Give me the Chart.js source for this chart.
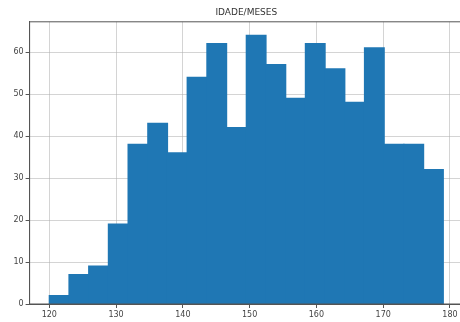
<!DOCTYPE html>
<html>
<head>
<meta charset="utf-8">
<script src="https://cdn.jsdelivr.net/npm/chart.js@4/dist/chart.umd.min.js"></script>
<style>
  html, body { margin: 0; padding: 0; background: #fff; overflow: hidden; }
  #wrap { width: 470px; height: 322px; }
</style>
</head>
<body>
<div id="wrap"><canvas id="histChart" width="470" height="322"></canvas></div>
<script>
// histograma da idade em meses (20 classes)
const titulo = 'IDADE/MESES';
const binStart = 120;
const binEnd = 179;
const counts = [2, 7, 9, 19, 38, 43, 36, 54, 62, 42, 64, 57, 49, 62, 56, 48, 61, 38, 38, 32];
const xTicks = [120, 130, 140, 150, 160, 170, 180];
const yTicks = [0, 10, 20, 30, 40, 50, 60];

const binWidth = (binEnd - binStart) / counts.length;
const points = counts.map((c, i) => ({ x: binStart + binWidth * (i + 0.5), y: c }));

// margens de 5% como no matplotlib
const xPad = (binEnd - binStart) * 0.05;
const yMax = Math.max(...counts) * 1.05;

const gridColor = 'rgba(176,176,176,0.55)';
const tickFont = { family: 'DejaVu Sans', size: 8 };

// moldura do eixo (spines)
const frame = {
    id: 'frame',
    afterDraw(chart) {
        const { ctx, chartArea: a } = chart;
        ctx.save();
        ctx.strokeStyle = '#555';
        ctx.lineWidth = 1;
        ctx.strokeRect(a.left, a.top, a.right - a.left, a.bottom - a.top);
        ctx.restore();
    }
};

const ctx = document.getElementById('histChart').getContext('2d');
const histChart = new Chart(ctx, {
    type: 'bar',
    data: {
        datasets: [{
            data: points,
            backgroundColor: '#1f77b4',
            borderWidth: 0,
            inflateAmount: 0.6,
            barPercentage: 1,
            categoryPercentage: 1
        }]
    },
    options: {
        responsive: false,
        animation: false,
        layout: { padding: { left: 0, right: 7, top: 0, bottom: 0 } },
        plugins: {
            legend: { display: false },
            tooltip: { enabled: false },
            title: {
                display: true,
                text: titulo,
                fullSize: false,
                color: '#333',
                font: { family: 'DejaVu Sans', size: 9, weight: 'normal' },
                padding: { top: 7, bottom: 4 }
            }
        },
        scales: {
            x: {
                type: 'linear',
                z: 1,
                offset: false,
                min: binStart - xPad,
                max: binEnd + xPad,
                afterBuildTicks: s => { s.ticks = xTicks.map(v => ({ value: v })); },
                afterFit: s => { s.height = 18; },
                ticks: { color: '#444', font: tickFont, padding: 2, maxRotation: 0 },
                grid: { offset: false, color: gridColor, tickColor: '#555', tickLength: 4 },
                border: { color: '#555' }
            },
            y: {
                z: 1,
                min: 0,
                max: yMax,
                afterBuildTicks: s => { s.ticks = yTicks.map(v => ({ value: v })); },
                afterFit: s => { s.width = 29.6; },
                ticks: { color: '#444', font: tickFont, padding: 2 },
                grid: { color: gridColor, tickColor: '#555', tickLength: 4 },
                border: { color: '#555' }
            }
        }
    },
    plugins: [frame]
});
</script>
</body>
</html>
